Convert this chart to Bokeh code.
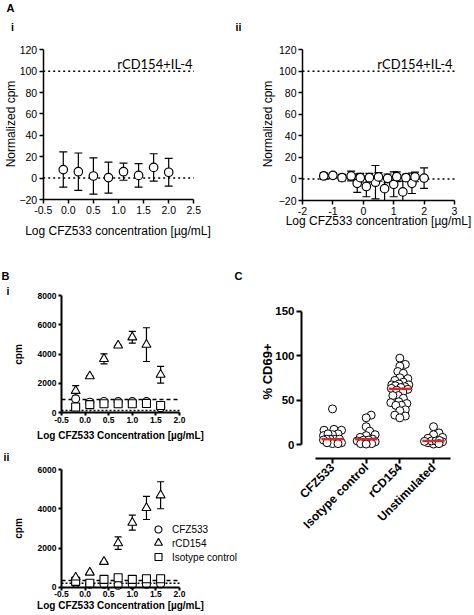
import numpy as np
from bokeh.plotting import figure
from bokeh.models import (Range1d, FixedTicker, PrintfTickFormatter, Label, LinearAxis,
                          Whisker, TeeHead, ColumnDataSource)
from bokeh.embed import file_html
from bokeh.resources import INLINE

FONT = "Liberation Sans"

# ---------------- DATA ----------------
# Panel A i
ai_x = [-0.1, 0.2, 0.5, 0.8, 1.1, 1.4, 1.7, 2.0]
ai_mean = [8, 6, 2, 0.5, 6, 2.5, 10, 5.5]
ai_err = [16.5, 17.5, 17, 14.5, 8, 11, 12.8, 13]
# Panel A ii (two dilution series)
aii_x1 = [-1.3, -1.0, -0.7, -0.4, -0.1, 0.2, 0.5, 0.8, 1.1, 1.4, 1.7, 2.0]
aii_mean1 = [2.8, 3.4, 1.2, 2.8, 1.2, 1.2, 1.9, 0.6, 2.1, 1.2, 1.9, 0.8]
aii_err1 = [3, 2.5, 3, 4.5, 4, 4, 4, 4, 4.5, 3, 4.5, 9.5]
aii_x2 = [-0.2, 0.1, 0.4, 0.7, 1.0, 1.3, 1.6]
aii_mean2 = [-4, -7, -3, -9, -5, -12, -4]
aii_err2 = [8.5, 9.5, 15.5, 11, 11.5, 10, 9.5]
a_ref_lines = [0, 100]
a_ref_text = "rCD154+IL-4"
a_yticks = [-20, 0, 20, 40, 60, 80, 100, 120]
ai_xticks = [-0.5, 0.0, 0.5, 1.0, 1.5, 2.0, 2.5]
aii_xticks = [-2, -1, 0, 1, 2, 3]
a_xlabel = "Log CFZ533 concentration [µg/mL]"
a_ylabel = "Normalized cpm"

# Panel B
b_x = [-0.2, 0.1, 0.4, 0.7, 1.0, 1.3, 1.6]
bi_rcd = [1500, 2500, 3680, 4600, 5150, 4650, 2600]
bi_rcd_err = [350, 0, 340, 0, 400, 1150, 570]
bi_iso = [400, 560, 620, 620, 620, 630, 500]
bi_iso_err = [0, 150, 0, 0, 0, 0, 0]
bi_cfz = [950, 720, 770, 760, 760, 760, 350]
bi_dashed = 900
bi_dotted = 150
bii_rcd = [500, 750, 1300, 2250, 3300, 4050, 4700]
bii_rcd_err = [0, 0, 0, 320, 380, 590, 690]
bii_iso = [300, 200, 400, 480, 400, 430, 430]
bii_iso_err = [0, 0, 0, 120, 0, 0, 0]
bii_cfz = [200, 150, 150, 100, 130, 150, 170]
bii_dashed = 340
bii_dotted = 200
b_xticks = [-0.5, 0.0, 0.5, 1.0, 1.5, 2.0]
bi_yticks = [0, 2000, 4000, 6000, 8000]
bii_yticks = [0, 2000, 4000, 6000]
b_series = ["CFZ533", "rCD154", "Isotype control"]
b_markers = ["circle", "triangle", "square"]
b_xlabel = "Log CFZ533 Concentration [µg/mL]"
b_ylabel = "cpm"

# Panel C
c_cats = ["CFZ533", "Isotype control", "rCD154", "Unstimulated"]
c_cfz = [40, 17, 16, 16, 12, 11, 10, 12, 6, 6, 6, 6, 5, 2, 1, 2, 1]
c_iso = [33, 30, 20, 15, 11, 10, 8, 6, 5, 5, 4, 3, 1, 1, 0.5]
c_rcd = [97, 90, 88, 82, 80, 75, 74, 72, 70, 68, 67, 67, 66, 65, 64, 63,
         62, 61, 59, 55, 55, 52, 48, 47, 46, 44, 44, 39, 38, 33, 32, 30]
c_uns = [20, 13, 11, 8, 7, 3, 2, 0.5, 4, 4, 3.5, 4.5, 1]
c_values = [c_cfz, c_iso, c_rcd, c_uns]
c_yticks = [0, 50, 100, 150]
c_ylabel = "% CD69+"

# ---------------- ONE CANVAS, ONE FRAME ----------------
# Default ranges are page pixels (y downward); every panel gets its own
# named ranges, and its axes sit at fixed locations inside the frame.
W, H = 472, 613
p = figure(width=W, height=H, x_range=Range1d(0, W), y_range=Range1d(H, 0),
           min_border=0, min_border_left=0, min_border_right=0,
           min_border_top=0, min_border_bottom=0,
           x_axis_location=None, y_axis_location=None,
           output_backend="svg", toolbar_location=None, title=None)
p.grid.visible = False
p.outline_line_color = None

xr, yr = {}, {}
scales = {}


def panel(name, px_x, dat_x, px_y, dat_y):
    kx = (dat_x[1] - dat_x[0]) / (px_x[1] - px_x[0])
    ky = (dat_y[1] - dat_y[0]) / (px_y[1] - px_y[0])
    xr[name] = Range1d(dat_x[0] - px_x[0] * kx, dat_x[0] + (W - px_x[0]) * kx)
    yr[name] = Range1d(dat_y[0] + (H - px_y[0]) * ky, dat_y[0] - px_y[0] * ky)
    scales[name] = (1 / kx, -1 / ky)  # px per data unit


def axis(name, side, loc, bounds, ticks, fmt, tick_size, bold, lw, tick_out, standoff):
    ax = LinearAxis(x_range_name=name, y_range_name=name, fixed_location=loc,
                    bounds=bounds, ticker=FixedTicker(ticks=ticks))
    if fmt:
        ax.formatter = PrintfTickFormatter(format=fmt)
    ax.axis_line_width = lw
    ax.axis_line_color = "black"
    ax.major_tick_line_width = lw
    ax.major_tick_line_color = "black"
    ax.major_tick_out = tick_out
    ax.major_tick_in = 0
    ax.minor_tick_line_color = None
    ax.major_label_text_font = FONT
    ax.major_label_text_font_size = tick_size
    ax.major_label_text_font_style = "bold" if bold else "normal"
    ax.major_label_text_color = "black"
    ax.major_label_standoff = standoff
    p.add_layout(ax, side)
    return ax


def txt(x, y, text, size, bold=False, align="center", angle=0.0, font=FONT):
    p.add_layout(Label(x=x, y=y, text=text, text_font=font, text_font_size=size,
                       text_font_style="bold" if bold else "normal", angle=angle,
                       text_align=align, text_baseline="middle", text_color="black"))


def errbars(name, xs, means, errs, lw=1.2, head=8, floor=None):
    lo = [m - e for m, e in zip(means, errs)]
    if floor is not None:
        lo = [max(v, floor) for v in lo]
    src = ColumnDataSource(dict(base=xs, upper=[m + e for m, e in zip(means, errs)], lower=lo))
    p.add_layout(Whisker(source=src, base="base", upper="upper", lower="lower",
                         x_range_name=name, y_range_name=name,
                         line_color="black", line_width=lw,
                         upper_head=TeeHead(size=head, line_width=lw, line_color="black"),
                         lower_head=TeeHead(size=head, line_width=lw, line_color="black")))


def markers(name, xs, ys, marker="circle", size=8, lw=1.2):
    return p.scatter(xs, ys, marker=marker, size=size, fill_color="white",
                     line_color="black", line_width=lw,
                     x_range_name=name, y_range_name=name)


def hline(name, x0, x1, yv, dash, lw=1.5):
    p.line([x0, x1], [yv, yv], line_color="black", line_width=lw, line_dash=dash,
           x_range_name=name, y_range_name=name)


# ---------------- PANEL A i ----------------
panel("ai", (42.7, 193.3), (-0.5, 2.5), (49.3, 199.0), (120, -20))
for yv in a_ref_lines:
    hline("ai", ai_xticks[0], ai_xticks[-1], yv, "2 3")
errbars("ai", ai_x, ai_mean, ai_err)
markers("ai", ai_x, ai_mean, size=8.5)
axis("ai", "below", a_yticks[0], (ai_xticks[0], ai_xticks[-1]), ai_xticks, "%.1f",
     "10.5px", False, 1.5, 4, 2)
axis("ai", "left", ai_xticks[0], (a_yticks[0], a_yticks[-1]), a_yticks, None,
     "10.5px", False, 1.5, 4, 2)
txt(117.5, 230, a_xlabel, "12px")
txt(10, 123.5, a_ylabel, "12px", angle=np.pi / 2)
txt(192, 63, a_ref_text, "13px", align="right", font="Lato")

# ---------------- PANEL A ii ----------------
panel("aii", (302, 454), (-2, 3), (49.3, 200.0), (120, -20))
for yv in a_ref_lines:
    hline("aii", aii_xticks[0], aii_xticks[-1], yv, "2 3")
errbars("aii", aii_x1, aii_mean1, aii_err1)
errbars("aii", aii_x2, aii_mean2, aii_err2, floor=a_yticks[0])
markers("aii", aii_x2, aii_mean2, size=8.5)
markers("aii", aii_x1, aii_mean1, size=8.5)
axis("aii", "below", a_yticks[0], (aii_xticks[0], aii_xticks[-1]), aii_xticks, "%d",
     "10.5px", False, 1.5, 4, 2)
axis("aii", "left", aii_xticks[0], (a_yticks[0], a_yticks[-1]), a_yticks, None,
     "10.5px", False, 1.5, 4, 2)
txt(378, 220, a_xlabel, "12px")
txt(267, 123.5, a_ylabel, "12px", angle=np.pi / 2)
txt(452, 63, a_ref_text, "13px", align="right", font="Lato")


# ---------------- PANEL B ----------------
def panel_b(name, rcd, rcd_err, iso, iso_err, cfz, dashed, dotted, yticks):
    hline(name, b_xticks[0], b_xticks[-1], dashed, "4 3")
    hline(name, b_xticks[0], b_xticks[-1], dotted, "2 2")
    errbars(name, b_x, rcd, rcd_err, lw=1.2, head=7)
    errbars(name, b_x, iso, iso_err, lw=1.2, head=7)
    markers(name, b_x, cfz, "circle", 8, 1.1)
    markers(name, b_x, iso, "square", 8, 1.1)
    markers(name, b_x, rcd, "triangle", 9, 1.1)
    axis(name, "below", yticks[0], (b_xticks[0], b_xticks[-1]), b_xticks, "%.1f",
         "8.5px", True, 2, 3, 1)
    axis(name, "left", b_xticks[0], (yticks[0], yticks[-1]), yticks, "%d",
         "8.5px", True, 2, 3, 2)


panel("bi", (61, 179), (-0.5, 2.0), (295, 412.3), (8000, 0))
panel_b("bi", bi_rcd, bi_rcd_err, bi_iso, bi_iso_err, bi_cfz, bi_dashed, bi_dotted, bi_yticks)
txt(120, 435, b_xlabel, "10px", bold=True)
txt(18, 354, b_ylabel, "10px", bold=True, angle=np.pi / 2)

panel("bii", (61, 179), (-0.5, 2.0), (469.3, 586.7), (6000, 0))
panel_b("bii", bii_rcd, bii_rcd_err, bii_iso, bii_iso_err, bii_cfz, bii_dashed, bii_dotted,
        bii_yticks)
txt(120, 605, b_xlabel, "10px", bold=True)
txt(18, 528, b_ylabel, "10px", bold=True, angle=np.pi / 2)
# key
for lab, mk, ky in zip(b_series, b_markers, [529, 542.5, 556.5]):
    p.scatter([158], [ky], marker=mk, size=8 if mk == "triangle" else 7,
              fill_color="white", line_color="black", line_width=1.1)
    txt(171.5, ky, lab, "10px", align="left")

# ---------------- PANEL C ----------------
panel("c", (332, 433), (1, 4), (355, 444), (100, 0))
c_ax_x = 1 - (332 - 301) / scales["c"][0]   # y-axis position (data x)
c_ax_y = -(458 - 444) / scales["c"][1]      # x-axis position (data y)
px_x, px_y = scales["c"]


def swarm(vals, center, d=5.5, maxoff=9.0):
    order = np.argsort(vals)
    placed = []
    xs = [0.0] * len(vals)
    cands = [0.0] + [s * k * 0.5 for k in range(1, int(maxoff * 2) + 1) for s in (1, -1)]
    for i in order:
        yv = vals[i] * px_y
        best, best_score = 0.0, -1.0
        for c in cands:
            mind = min([np.hypot(c - qx, yv - qy) for qx, qy in placed], default=99.0)
            if mind >= d:
                best = c
                break
            if mind > best_score:
                best_score, best = mind, c
        placed.append((best, yv))
        xs[i] = center + best / px_x
    return xs


for i, vals in enumerate(c_values):
    markers("c", swarm(vals, i + 1), vals, "circle", 8, 1)
meds = [float(np.median(v)) for v in c_values]
cx = [i + 1 for i in range(len(c_cats))]
p.segment(x0=[c - 0.33 for c in cx], y0=meds, x1=[c + 0.33 for c in cx], y1=meds,
          line_color="#e3232c", line_width=2.5, x_range_name="c", y_range_name="c")
cxa = axis("c", "below", c_ax_y, (0.5, 4.5), cx, None, "12px", True, 2, 5, 2)
cxa.major_label_overrides = {i + 1: c for i, c in enumerate(c_cats)}
cxa.major_label_orientation = np.pi / 4
axis("c", "left", c_ax_x, (c_yticks[0], c_yticks[-1]), c_yticks, None,
     "11.5px", True, 2, 5, 2)
txt(267, 371, c_ylabel, "13px", bold=True, angle=np.pi / 2)

# ---------------- PANEL TAGS ----------------
for tx, ty, t, s in [(10, 7, "A", "11px"), (12, 26, "i", "10.5px"), (238, 26, "ii", "10.5px"),
                     (5, 275, "B", "11px"), (7.5, 290, "i", "10.5px"), (6, 456, "ii", "10.5px"),
                     (238, 275, "C", "11px")]:
    txt(tx, ty, t, s, bold=True)

p.extra_x_ranges = xr
p.extra_y_ranges = yr

open("out.html", "w").write(file_html(p, INLINE))
